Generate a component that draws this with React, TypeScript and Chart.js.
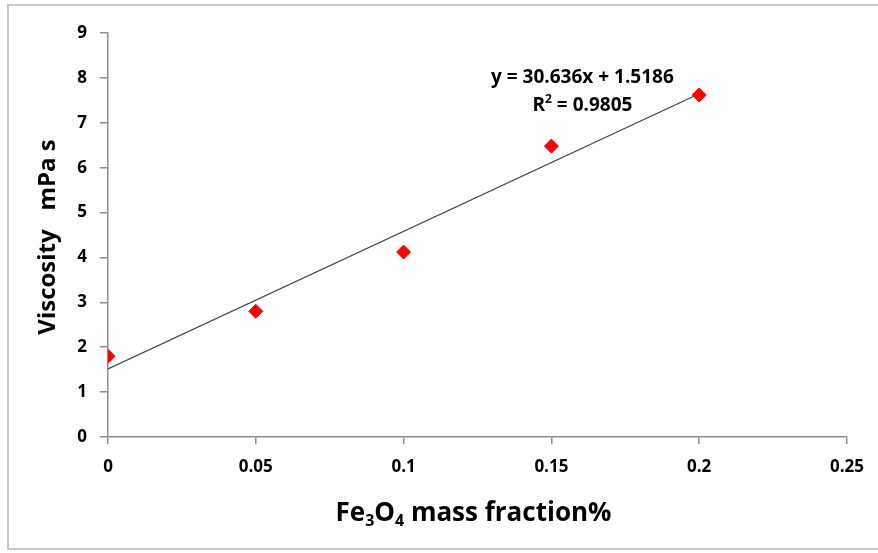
import React, { useEffect, useRef } from "react";
import { Chart, registerables } from "chart.js";

Chart.register(...registerables);

const massFraction = [0, 0.05, 0.1, 0.15, 0.2];
const viscosity = [1.8, 2.8, 4.12, 6.48, 7.62];
const slope = 30.636;
const intercept = 1.5186;
const rSquared = "0.9805";
const trendRange = [0, 0.2];
const xTicks = [0, 0.05, 0.1, 0.15, 0.2, 0.25];
const yTicks = [0, 1, 2, 3, 4, 5, 6, 7, 8, 9];

const FONT = "'Open Sans', Lato, sans-serif";

const textPlugin = {
  id: "customText",
  afterDraw(chart: any) {
    const { ctx, chartArea, scales } = chart;
    ctx.save();
    ctx.fillStyle = "#000";
    // X title with subscripts
    const big = `bold 26px ${FONT}`;
    const small = `bold 16px ${FONT}`;
    const parts: [string, boolean][] = [
      ["Fe", false],
      ["3", true],
      ["O", false],
      ["4", true],
      [" mass fraction%", false],
    ];
    let total = 0;
    for (const [t, sub] of parts) {
      ctx.font = sub ? small : big;
      total += ctx.measureText(t).width;
    }
    let x = (chartArea.left + chartArea.right) / 2 - 4 - total / 2;
    const yBase = chartArea.bottom + 84;
    ctx.textBaseline = "alphabetic";
    ctx.textAlign = "left";
    for (const [t, sub] of parts) {
      ctx.font = sub ? small : big;
      ctx.fillText(t, x, sub ? yBase + 5 : yBase);
      x += ctx.measureText(t).width;
    }

    // Y title
    ctx.save();
    ctx.translate(chartArea.left - 60, (chartArea.top + chartArea.bottom) / 2 + 2);
    ctx.rotate(-Math.PI / 2);
    ctx.font = `bold 24px ${FONT}`;
    ctx.textAlign = "center";
    ctx.textBaseline = "middle";
    ctx.fillText("Viscosity   mPa s", 0, 0);
    ctx.restore();

    // Equation
    const ex = scales.x.getPixelForValue(0.1605);
    const ey1 = scales.y.getPixelForValue(8.0);
    const ey2 = scales.y.getPixelForValue(7.38);
    ctx.font = `bold 19px ${FONT}`;
    ctx.textAlign = "center";
    ctx.textBaseline = "middle";
    ctx.fillText(`y = ${slope}x + ${intercept}`, ex, ey1);
    // R² line
    const p1 = "R";
    const p2 = "2";
    const p3 = ` = ${rSquared}`;
    ctx.font = `bold 19px ${FONT}`;
    const w1 = ctx.measureText(p1).width;
    const w3 = ctx.measureText(p3).width;
    ctx.font = `bold 12px ${FONT}`;
    const w2 = ctx.measureText(p2).width;
    let rx = ex - (w1 + w2 + w3) / 2;
    ctx.textAlign = "left";
    ctx.font = `bold 19px ${FONT}`;
    ctx.fillText(p1, rx, ey2);
    rx += w1;
    ctx.font = `bold 12px ${FONT}`;
    ctx.fillText(p2, rx, ey2 - 6);
    rx += w2;
    ctx.font = `bold 19px ${FONT}`;
    ctx.fillText(p3, rx, ey2);
    ctx.restore();
  },
};

export default function App() {
  const ref = useRef<HTMLCanvasElement>(null);
  useEffect(() => {
    document.body.style.margin = "0";
    const chart = new Chart(ref.current!, {
      type: "scatter",
      data: {
        datasets: [
          {
            label: "trend",
            type: "line",
            data: trendRange.map((x) => ({ x, y: slope * x + intercept })),
            borderColor: "#404040",
            borderWidth: 1.2,
            pointRadius: 0,
            fill: false,
            order: 2,
          } as any,
          {
            label: "Viscosity",
            data: massFraction.map((x, i) => ({ x, y: viscosity[i] })),
            backgroundColor: "#ff0000",
            borderColor: "#ff0000",
            pointStyle: "rectRot",
            pointRadius: 7,
            order: 1,
          },
        ],
      },
      options: {
        animation: false,
        responsive: false,
        layout: { padding: { top: 33, right: 31, left: 0, bottom: 0 } },
        plugins: { legend: { display: false }, tooltip: { enabled: false } },
        scales: {
          x: {
            type: "linear",
            min: 0,
            max: 0.25,
            afterBuildTicks: (s: any) => {
              s.ticks = xTicks.map((v) => ({ value: v }));
            },
            afterFit: (s: any) => {
              s.height = 116;
            },
            border: { color: "#8f8f8f", width: 1.5 },
            grid: { drawOnChartArea: false, tickLength: 7, color: "#8f8f8f", lineWidth: 1.5 },
            ticks: {
              padding: 13,
              color: "#000",
              font: { family: FONT, size: 17, weight: "bold" },
              callback: (v: any) => String(Number(Number(v).toFixed(2))),
            },
          },
          y: {
            type: "linear",
            min: 0,
            max: 9,
            afterBuildTicks: (s: any) => {
              s.ticks = yTicks.map((v) => ({ value: v }));
            },
            afterFit: (s: any) => {
              s.width = 108;
            },
            border: { color: "#8f8f8f", width: 1.5 },
            grid: { drawOnChartArea: false, tickLength: 8, color: "#8f8f8f", lineWidth: 1.5 },
            ticks: {
              padding: 13,
              color: "#000",
              font: { family: FONT, size: 17, weight: "bold" },
            },
          },
        },
      },
      plugins: [textPlugin],
    } as any);
    return () => chart.destroy();
  }, []);
  return (
    <div style={{ position: "relative", width: 878, height: 553, background: "#fff" }}>
      <canvas ref={ref} width={878} height={553} style={{ position: "absolute", left: 0, top: 0 }} />
      <div
        style={{
          position: "absolute",
          left: 7,
          top: 4,
          width: 880,
          height: 546,
          border: "2px solid #c8c8c8",
          pointerEvents: "none",
          boxSizing: "border-box",
        }}
      />
    </div>
  );
}
